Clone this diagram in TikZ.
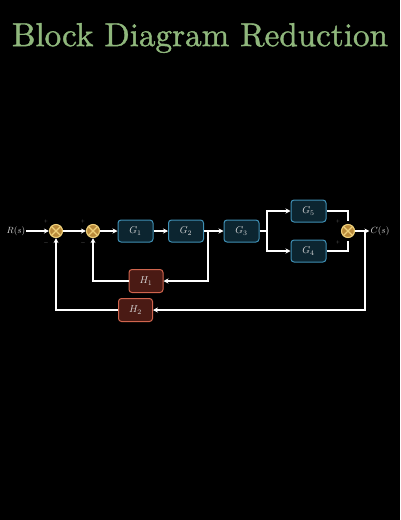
\documentclass[tikz,border=0pt]{standalone}
\usepackage{fontspec}
\newfontfamily\titlefont{Latin Modern Roman}[FakeBold=1.2]
\usetikzlibrary{arrows.meta,calc}
\definecolor{titlegreen}{HTML}{8FB77C}
\definecolor{gfill}{HTML}{0C2530}
\definecolor{gdraw}{HTML}{3F90B5}
\definecolor{hfill}{HTML}{4A1A14}
\definecolor{hdraw}{HTML}{D0654E}
\definecolor{sring}{HTML}{EFD07A}
\definecolor{sfill}{HTML}{B8893A}
\definecolor{lbl}{HTML}{DADADA}
\tikzset{
  gblock/.style={rectangle, rounded corners=3pt, minimum width=35pt, minimum height=22pt,
    draw=gdraw, fill=gfill, line width=1pt, text=lbl, font=\normalsize, inner sep=0pt},
  hblock/.style={rectangle, rounded corners=3pt, minimum width=34pt, minimum height=23pt,
    draw=hdraw, fill=hfill, line width=1pt, text=lbl, font=\normalsize, inner sep=0pt},
  sumj/.style={circle, minimum size=13pt, inner sep=0pt, draw=sring, fill=sfill, line width=1.1pt},
  wire/.style={draw=white, line width=1.3pt},
  arr/.style={wire, -{Stealth[length=5pt,width=5pt]}},
  sgn/.style={text=gray, font=\fontsize{4}{4}\selectfont, inner sep=0pt},
  io/.style={text=lbl, font=\small, inner sep=1pt}
}
\begin{document}
\begin{tikzpicture}[x=1pt,y=-1pt]
\fill[black] (0,0) rectangle (400,520);
\useasboundingbox (0,0) rectangle (400,520);
\node[text=titlegreen, inner sep=0pt] (title) at (200,38) {\resizebox{376pt}{!}{\titlefont Block Diagram Reduction}};

\node[io] (r) at (16,231) {$R(s)$};
\node[sumj] (s1) at (56,231) {};
\node[sumj] (s2) at (93,231) {};
\node[gblock] (g1) at (135.5,231) {$G_1$};
\node[gblock] (g2) at (186,231) {$G_2$};
\node[gblock] (g3) at (241.5,231) {$G_3$};
\node[gblock] (g5) at (308.5,211) {$G_5$};
\node[gblock] (g4) at (308.5,251) {$G_4$};
\node[sumj] (s3) at (348,231) {};
\node[io] (c) at (380,231) {$C(s)$};
\node[hblock] (h1) at (146,281) {$H_1$};
\node[hblock] (h2) at (135.5,310) {$H_2$};

\foreach \s in {s1,s2,s3}{
  \draw[sring, line width=1.1pt] (\s.north west) -- (\s.south east) (\s.north east) -- (\s.south west);
}

\node[sgn] (p1) at (46,221) {+};
\node[sgn] (m1) at (46,243) {$-$};
\node[sgn] (p2) at (83,221) {+};
\node[sgn] (m2) at (83,243) {$-$};
\node[sgn] (p3) at (338,221) {+};
\node[sgn] (p4) at (338,242) {+};

\coordinate (b1) at (208,231);
\coordinate (b2) at (267,231);
\coordinate (b3) at (365,231);

\draw[arr] (r.east) -- (s1.west);
\draw[arr] (s1.east) -- (s2.west);
\draw[arr] (s2.east) -- (g1.west);
\draw[arr] (g1.east) -- (g2.west);
\draw[arr] (g2.east) -- (g3.west);
\draw[wire] (g3.east) -- (b2);
\draw[arr] (b2) |- (g5.west);
\draw[arr] (b2) |- (g4.west);
\draw[wire, shorten >=3pt] (g5.east) -| (s3.north);
\draw[wire, shorten >=3pt] (g4.east) -| (s3.south);
\draw[arr] (s3.east) -- (c.west);
\draw[arr] (b1) |- (h1.east);
\draw[arr] (h1.west) -| (s2.south);
\draw[arr] (b3) |- (h2.east);
\draw[arr] (h2.west) -| (s1.south);
\end{tikzpicture}
\end{document}
